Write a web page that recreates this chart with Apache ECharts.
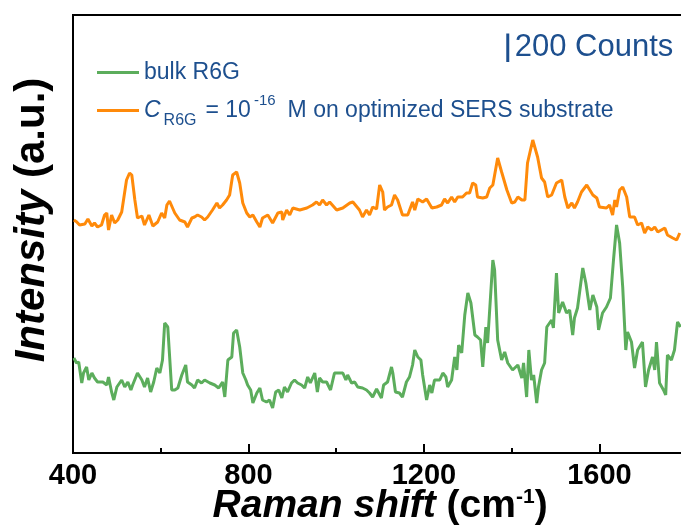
<!DOCTYPE html>
<html>
<head>
<meta charset="utf-8">
<script src="https://cdn.jsdelivr.net/npm/echarts@6/dist/echarts.min.js"></script>
<style>
html,body{margin:0;padding:0;background:#fff;}
#chart{width:681px;height:525px;}
</style>
</head>
<body>
<div id="chart"></div>
<script>
// Raman shift (cm-1) and intensity (counts)
const sersShift = [402,408,415,427,434,443,449,456,465,472,477,481,488,495,502,511,513,522,529,534,541,547,557,563,573,582,593,602,609,614,620,632,643,655,661,671,677,684,693,700,707,718,728,734,741,750,757,764,773,780,787,796,803,810,819,826,832,844,855,867,876,878,887,894,901,917,933,946,955,962,969,978,985,1001,1015,1031,1038,1053,1060,1069,1076,1083,1092,1099,1106,1110,1117,1126,1133,1140,1151,1163,1174,1179,1186,1197,1206,1218,1229,1240,1247,1254,1263,1270,1277,1288,1297,1304,1311,1318,1322,1334,1343,1350,1357,1368,1377,1389,1400,1407,1414,1423,1430,1436,1448,1452,1459,1468,1475,1482,1491,1502,1514,1521,1528,1537,1543,1550,1559,1571,1578,1585,1594,1600,1616,1623,1630,1635,1639,1646,1653,1662,1669,1680,1687,1696,1703,1710,1719,1726,1733,1749,1755,1767,1776,1783];
const sersIntensity = [1631,1619,1596,1603,1638,1589,1610,1582,1596,1666,1680,1561,1666,1610,1631,1687,1701,1911,1960,1946,1771,1645,1659,1596,1666,1589,1617,1680,1645,1736,1764,1680,1631,1617,1582,1645,1652,1666,1652,1631,1652,1701,1750,1715,1736,1771,1806,1946,1967,1890,1750,1680,1652,1666,1617,1582,1645,1666,1610,1680,1687,1631,1701,1666,1715,1701,1715,1736,1757,1736,1771,1736,1757,1701,1715,1750,1757,1701,1652,1701,1666,1722,1708,1876,1827,1701,1722,1736,1806,1771,1666,1666,1757,1701,1778,1757,1778,1715,1722,1736,1778,1750,1792,1757,1792,1792,1820,1820,1890,1876,1792,1785,1792,1855,1876,2065,1967,1841,1750,1757,1792,1771,1771,2030,2191,2177,2072,1925,1897,1792,1806,1890,1911,1792,1715,1750,1715,1757,1827,1876,1841,1806,1785,1722,1715,1736,1666,1771,1722,1841,1862,1792,1652,1652,1596,1610,1540,1582,1561,1582,1547,1575,1526,1505,1491,1540];

const bulkShift = [402,408,413,420,424,431,436,443,449,456,468,477,481,488,493,500,511,518,525,532,536,547,557,563,570,577,584,591,598,604,609,616,625,632,639,648,657,661,671,677,684,693,700,712,723,732,741,746,753,762,766,773,780,787,794,798,805,810,819,826,832,841,848,855,862,869,876,882,889,898,905,912,921,928,935,941,951,957,962,969,978,987,996,1008,1015,1022,1026,1035,1042,1049,1053,1060,1069,1076,1083,1092,1103,1108,1117,1126,1129,1135,1144,1151,1160,1167,1174,1179,1186,1193,1197,1206,1213,1218,1224,1236,1243,1250,1254,1263,1270,1275,1279,1286,1293,1300,1307,1316,1322,1329,1334,1341,1345,1357,1361,1368,1377,1384,1391,1402,1414,1423,1427,1434,1439,1445,1450,1457,1461,1468,1475,1480,1491,1495,1502,1507,1516,1525,1532,1539,1543,1550,1562,1569,1578,1585,1594,1598,1607,1616,1625,1632,1639,1646,1653,1660,1664,1673,1680,1687,1698,1705,1712,1721,1726,1730,1737,1746,1751,1755,1764,1771,1778,1785];
const bulkIntensity = [665,630,637,490,560,602,511,560,525,497,497,476,532,427,371,462,511,462,497,441,476,560,511,462,525,427,497,595,560,651,910,882,441,441,455,546,616,497,476,455,511,490,511,490,476,455,497,392,651,672,840,861,742,560,511,476,441,350,420,455,371,357,371,315,427,441,385,462,427,490,511,490,476,455,532,490,560,427,525,497,497,441,560,560,560,511,546,490,497,462,476,455,441,420,392,448,385,476,497,602,560,427,420,392,497,532,616,721,672,651,546,371,476,420,511,511,560,532,462,511,672,581,756,700,966,1120,1050,826,812,791,602,882,770,1351,1281,791,651,707,630,581,616,525,630,392,721,511,546,350,462,581,630,882,931,875,1260,980,1057,980,1001,826,945,1015,1295,1190,1001,1106,1022,861,980,1022,1085,1351,1596,1470,1162,721,847,777,595,721,777,462,581,672,581,777,490,441,406,686,651,721,917,882];

// scale bar: 200 counts
const scaleBarShift = 1391;
const scaleBarBase = 2737;
const scaleBarCounts = 200;
const scaleBarLabel = '200 Counts';

const xTickValues = [400, 800, 1200, 1600];
const xMin = 400, xMax = 1800, xInterval = 400;
const yMin = 0, yMax = 3066;

const seriesNames = ['bulk R6G', 'C_R6G = 10^-16 M on optimized SERS substrate'];
const seriesColors = ['#5cad5c', '#ff8a0a'];

function pairs(xs, ys){ return xs.map((x,i)=>[x, ys[i]]); }

const chart = echarts.init(document.getElementById('chart'), null, {renderer:'canvas'});
const blue = '#1d4f8e';
const F = 'Liberation Sans';
chart.setOption({
  backgroundColor: '#fff',
  animation: false,
  grid: { left: 73, top: 15, width: 614.2, bottom: 72, show: true, borderColor: '#000', borderWidth: 2,
    backgroundColor: 'transparent', containLabel: false, outerBoundsMode: 'none' },
  legend: {
    orient: 'vertical', left: 97, top: 61, itemGap: 9, padding: 0,
    icon: 'rect', itemWidth: 42, itemHeight: 3,
    data: seriesNames,
    textStyle: { color: blue, fontFamily: F, fontSize: 23,
      rich: {
        n: { color: blue, fontFamily: F, fontSize: 23 },
        e: { color: blue, fontFamily: F, fontSize: 23, padding: [0, 0, 0, 9] },
        m: { color: blue, fontFamily: F, fontSize: 23, padding: [0, 0, 0, 12] },
        i: { color: blue, fontFamily: F, fontSize: 23, fontStyle: 'italic' },
        sub: { color: blue, fontFamily: F, fontSize: 16, verticalAlign: 'bottom', padding: [0, 0, -7, 3] },
        sup: { color: blue, fontFamily: F, fontSize: 15, verticalAlign: 'top', padding: [-6, 0, 0, 3] }
      }
    },
    formatter: function(name){
      if (name === seriesNames[1]) return '{i|C}{sub|R6G}{e|= 10}{sup|-16}{m|M on optimized SERS substrate}';
      return name;
    }
  },
  xAxis: {
    type: 'value', min: xMin, max: xMax, interval: xInterval,
    axisLine: { show: true, lineStyle: { color: '#000', width: 2 } },
    axisTick: { show: true, inside: true, length: 9, lineStyle: { color: '#000', width: 2 } },
    minorTick: { show: true, splitNumber: 2, length: 5, lineStyle: { color: '#000', width: 2 } },
    splitLine: { show: false },
    axisLabel: { margin: 8, color: '#000', fontFamily: F, fontWeight: 'bold', fontSize: 29,
      showMaxLabel: false,
      formatter: v => xTickValues.includes(v) ? String(v) : '' },
    name: '{a|Raman shift}{b| (cm}{c|-1}{b|)}',
    nameLocation: 'middle', nameGap: 34, nameMoveOverlap: false,
    nameTextStyle: {
      rich: {
        a: { fontFamily: F, fontSize: 39, fontWeight: 'bold', fontStyle: 'italic', color: '#000' },
        b: { fontFamily: F, fontSize: 39, fontWeight: 'bold', color: '#000' },
        c: { fontFamily: F, fontSize: 21, fontWeight: 'bold', color: '#000', verticalAlign: 'top' }
      }
    }
  },
  yAxis: {
    type: 'value', min: yMin, max: yMax,
    axisLine: { show: true, lineStyle: { color: '#000', width: 2 } },
    axisTick: { show: false }, axisLabel: { show: false }, splitLine: { show: false },
    name: '{a|Intensity}{b| (a.u.)}',
    nameLocation: 'middle', nameGap: 20, nameRotate: 90, nameMoveOverlap: false,
    nameTextStyle: {
      padding: [0, 0, 0, 28],
      rich: {
        a: { fontFamily: F, fontSize: 42, fontWeight: 'bold', fontStyle: 'italic', color: '#000' },
        b: { fontFamily: F, fontSize: 42, fontWeight: 'bold', color: '#000' }
      }
    }
  },
  series: [
    { name: seriesNames[0], type: 'line', data: pairs(bulkShift, bulkIntensity), symbol: 'none',
      lineStyle: { color: seriesColors[0], width: 3 }, itemStyle: { color: seriesColors[0] } },
    { name: seriesNames[1], type: 'line', data: pairs(sersShift, sersIntensity), symbol: 'none',
      lineStyle: { color: seriesColors[1], width: 3 }, itemStyle: { color: seriesColors[1] } },
    { name: 'scale', type: 'line', data: [[scaleBarShift, scaleBarBase], [scaleBarShift, scaleBarBase + scaleBarCounts]],
      symbol: 'none', lineStyle: { color: blue, width: 3 }, itemStyle: { color: blue } },
    { name: 'scaleLabel', type: 'scatter', data: [[scaleBarShift, scaleBarBase + scaleBarCounts / 2]],
      symbolSize: 0, itemStyle: { opacity: 1, color: blue },
      label: { show: true, position: 'right', distance: 7, formatter: scaleBarLabel, color: blue, opacity: 1,
        fontFamily: F, fontSize: 31 } }
  ]
});
</script>
</body>
</html>
